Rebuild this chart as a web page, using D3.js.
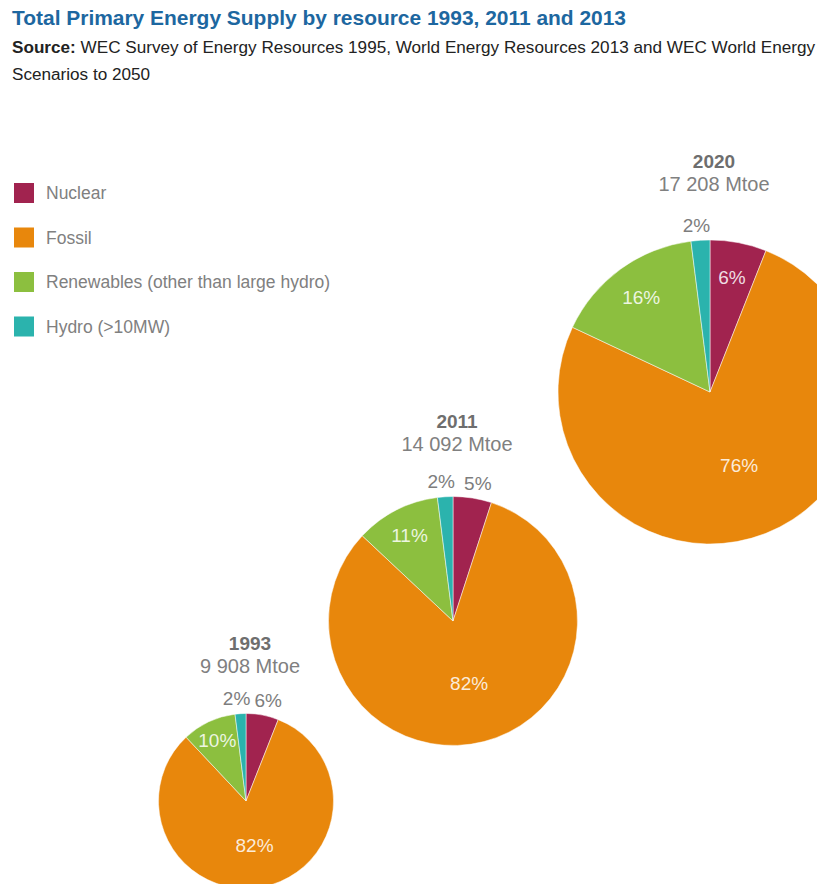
<!DOCTYPE html>
<html>
<head>
<meta charset="utf-8">
<script src="https://cdn.jsdelivr.net/npm/d3@7"></script>
<style>
  body { margin: 0; background: #fff; }
  svg text { font-family: "Liberation Sans", Arial, sans-serif; }
</style>
</head>
<body>
<div id="chart"></div>
<script>
// data
var resources = ["Nuclear", "Fossil", "Renewables (other than large hydro)", "Hydro (>10MW)"];
var years = ["1993", "2011", "2020"];
var totals = [9908, 14092, 17208];
var totalLabels = ["9 908 Mtoe", "14 092 Mtoe", "17 208 Mtoe"];
var share1993 = [6, 82, 10, 2];
var share2011 = [5, 82, 11, 2];
var share2020 = [6, 76, 16, 2];
var shares = [share1993, share2011, share2020];

var colors = ["#a1234f", "#e8870c", "#8cbf3f", "#2bb3ad"];

var width = 817, height = 884;

var svg = d3.select("#chart").append("svg")
	.attr("width", width)
	.attr("height", height);

// title + source
svg.append("text")
	.attr("x", 12).attr("y", 25)
	.attr("textLength", 614).attr("lengthAdjust", "spacingAndGlyphs")
	.style("font-size", "20.5px").style("font-weight", "bold")
	.style("fill", "#1d67a0")
	.text("Total Primary Energy Supply by resource 1993, 2011 and 2013");

var src = svg.append("text")
	.attr("x", 12).attr("y", 53)
	.attr("textLength", 803).attr("lengthAdjust", "spacingAndGlyphs")
	.style("font-size", "16px").style("fill", "#222");
src.append("tspan").style("font-weight", "bold").text("Source:");
src.append("tspan").text(" WEC Survey of Energy Resources 1995, World Energy Resources 2013 and WEC World Energy");

svg.append("text")
	.attr("x", 12).attr("y", 80)
	.attr("textLength", 138).attr("lengthAdjust", "spacingAndGlyphs")
	.style("font-size", "16px").style("fill", "#222")
	.text("Scenarios to 2050");

// legend
var legend = svg.append("g").attr("transform", "translate(14,183)");
var legendRow = legend.selectAll("g")
	.data(resources)
	.enter().append("g")
		.attr("transform", function(d, i) { return "translate(0," + (i * 44.5) + ")"; });
legendRow.append("rect")
	.attr("width", 20).attr("height", 20)
	.style("fill", function(d, i) { return colors[i]; });
legendRow.append("text")
	.attr("x", 32).attr("y", 16)
	.style("font-size", "17.5px").style("fill", "#808080")
	.text(function(d) { return d; });

// pies
var rScale = d3.scaleLinear().domain([0, 17208]).range([0, 152]);
var centers = [[246, 801], [453, 621], [710, 392]];

var pie = d3.pie().sort(null).value(function(d) { return d; });

for (var p = 0; p < years.length; p++) {
	var r = rScale(totals[p]);
	var g = svg.append("g")
		.attr("transform", "translate(" + centers[p][0] + "," + centers[p][1] + ")");
	var arc = d3.arc().innerRadius(0).outerRadius(r);
	var arcs = pie(shares[p]);

	g.selectAll("path")
		.data(arcs)
		.enter().append("path")
			.attr("d", arc)
			.style("fill", function(d, i) { return colors[i]; })
			.style("stroke", "#fff")
			.style("stroke-width", 0.5);

	g.selectAll("text.pct")
		.data(arcs)
		.enter().append("text")
			.attr("class", "pct")
			.attr("transform", function(d, i) {
				var a = (d.startAngle + d.endAngle) / 2;
				var arcLen = (d.endAngle - d.startAngle) * r;
				var k, nudge = 0;
				if (arcLen < 45) { k = r + 15; nudge = Math.sin(a) < 0 ? -3 : 3; }
				else if (i == 1) k = r * 0.52;
				else k = r * 0.77;
				return "translate(" + (Math.sin(a) * k + nudge) + "," + (-Math.cos(a) * k) + ")";
			})
			.attr("text-anchor", "middle")
			.attr("dy", "0.35em")
			.style("font-size", "19px")
			.style("fill", function(d) {
				var arcLen = (d.endAngle - d.startAngle) * r;
				return arcLen < 45 ? "#7d7d7d" : "rgba(255,255,255,0.85)";
			})
			.text(function(d) { return d.data + "%"; });

	var head = 52 + 0.13 * r;
	g.append("text")
		.attr("x", 4).attr("y", -r - head)
		.attr("text-anchor", "middle")
		.style("font-size", "19px").style("font-weight", "bold").style("fill", "#6e6e6e")
		.text(years[p]);
	g.append("text")
		.attr("x", 4).attr("y", -r - head + 23)
		.attr("text-anchor", "middle")
		.style("font-size", "20px").style("fill", "#808080")
		.text(totalLabels[p]);
}
</script>
</body>
</html>
